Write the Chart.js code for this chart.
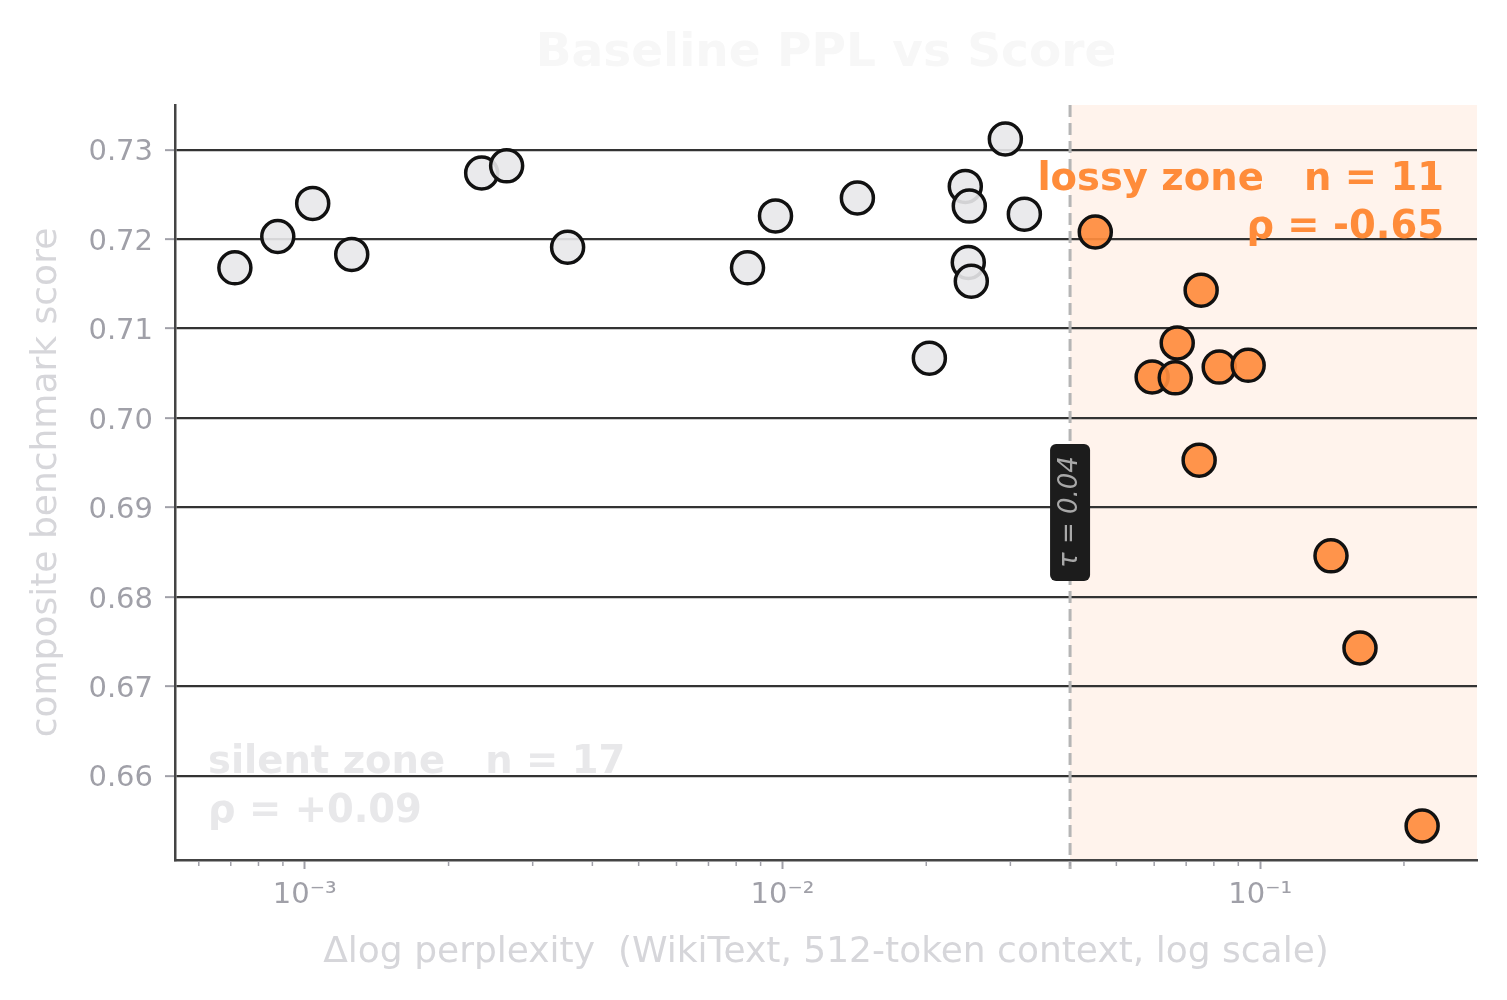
<!DOCTYPE html>
<html>
<head>
<meta charset="utf-8">
<script src="https://cdn.jsdelivr.net/npm/chart.js@4.4.0/dist/chart.umd.min.js"></script>
<style>
  html, body { margin: 0; padding: 0; background: #fff; }
</style>
</head>
<body>
<canvas id="scoreChart" width="1507" height="1000"></canvas>
<script>
// Silent zone (below tau) – Δlog perplexity vs composite score
const silentPpl = [0.000714, 0.000878, 0.001039, 0.001254, 0.002346, 0.002646, 0.00355,
                   0.00845, 0.00967, 0.01435, 0.0203, 0.02414, 0.02461, 0.02449, 0.02485, 0.02928, 0.03209];
const silentScore = [0.7168, 0.7203, 0.7240, 0.7183, 0.7274, 0.7282, 0.7191,
                     0.7168, 0.7226, 0.7246, 0.7067, 0.7259, 0.7237, 0.7174, 0.7153, 0.7312, 0.7228];

// Lossy zone (above tau)
const lossyPpl = [0.04517, 0.07524, 0.06705, 0.05941, 0.06641, 0.08209, 0.09438, 0.07452, 0.1407, 0.1618, 0.2183];
const lossyScore = [0.7208, 0.7143, 0.7084, 0.7046, 0.7045, 0.7057, 0.7059, 0.6953, 0.6846, 0.6743, 0.6544];

const threshold = 0.04;
const yTicks = [0.66, 0.67, 0.68, 0.69, 0.70, 0.71, 0.72, 0.73];
const xMajorTicks = [1e-3, 1e-2, 1e-1];
const xTickLabels = ['10⁻³', '10⁻²', '10⁻¹'];
const xMinorTicks = [6e-4, 7e-4, 8e-4, 9e-4,
                     2e-3, 3e-3, 4e-3, 5e-3, 6e-3, 7e-3, 8e-3, 9e-3,
                     2e-2, 3e-2, 4e-2, 5e-2, 6e-2, 7e-2, 8e-2, 9e-2, 2e-1];

const FONT = 'DejaVu Sans';
const tickGrey = '#a0a0a8';
const titleGrey = '#d6d6da';

const zonePlugin = {
    id: 'zones',
    beforeDraw(chart) {
        const { ctx, chartArea: a, scales: { x } } = chart;
        const xt = x.getPixelForValue(threshold);
        ctx.save();
        ctx.fillStyle = '#fff3ec';
        ctx.fillRect(xt, a.top, a.right - xt, a.bottom - a.top);
        ctx.restore();
    },
    beforeDatasetsDraw(chart) {
        const { ctx, chartArea: a, scales: { x, y } } = chart;
        const xt = x.getPixelForValue(threshold);
        ctx.save();
        // threshold line
        ctx.strokeStyle = '#b5b5b5';
        ctx.lineWidth = 3;
        ctx.setLineDash([12, 6]);
        ctx.beginPath();
        ctx.moveTo(xt, a.top);
        ctx.lineTo(xt, a.bottom + 9);
        ctx.stroke();
        ctx.setLineDash([]);
        // tau label
        const cy = y.getPixelForValue(0.6895);
        ctx.fillStyle = '#1c1c1c';
        ctx.beginPath();
        ctx.roundRect(xt - 20, cy - 68, 40, 137, 6);
        ctx.fill();
        ctx.translate(xt, cy);
        ctx.rotate(-Math.PI / 2);
        ctx.fillStyle = '#a8a8a8';
        ctx.font = 'italic 26px "' + FONT + '"';
        ctx.textAlign = 'center';
        ctx.textBaseline = 'middle';
        ctx.fillText('τ = 0.04', 0, 0);
        ctx.restore();
    },
    afterDatasetsDraw(chart) {
        const { ctx, chartArea: a } = chart;
        ctx.save();
        ctx.font = 'bold 38.5px "' + FONT + '"';
        ctx.textBaseline = 'alphabetic';
        // lossy zone note
        ctx.fillStyle = '#ff8c3a';
        ctx.textAlign = 'right';
        ctx.fillText('lossy zone   n = 11', a.right - 33, a.top + 85);
        ctx.fillText('ρ = -0.65', a.right - 33, a.top + 133);
        // silent zone note
        ctx.fillStyle = '#e8e8ea';
        ctx.textAlign = 'left';
        ctx.fillText('silent zone   n = 17', a.left + 33, a.bottom - 87);
        ctx.fillText('ρ = +0.09', a.left + 33, a.bottom - 38);
        ctx.restore();
    },
    afterDraw(chart) {
        const { ctx, chartArea: a, scales: { x } } = chart;
        ctx.save();
        // minor ticks on log axis
        ctx.strokeStyle = tickGrey;
        ctx.lineWidth = 1.5;
        xMinorTicks.forEach(v => {
            const px = x.getPixelForValue(v);
            ctx.beginPath();
            ctx.moveTo(px, a.bottom + 1);
            ctx.lineTo(px, a.bottom + 6);
            ctx.stroke();
        });
        // title
        ctx.fillStyle = '#f7f7f7';
        ctx.font = 'bold 47px "' + FONT + '"';
        ctx.textAlign = 'center';
        ctx.textBaseline = 'middle';
        ctx.fillText('Baseline PPL vs Score', (a.left + a.right) / 2, 54);
        ctx.restore();
    }
};

const ctx = document.getElementById('scoreChart').getContext('2d');
const scoreChart = new Chart(ctx, {
    type: 'scatter',
    data: {
        datasets: [{
            label: 'silent',
            data: silentPpl.map((v, i) => ({ x: v, y: silentScore[i] })),
            pointBackgroundColor: 'rgba(232,232,234,0.9)',
            pointBorderColor: '#111',
            pointBorderWidth: 3.5,
            pointRadius: 16
        }, {
            label: 'lossy',
            data: lossyPpl.map((v, i) => ({ x: v, y: lossyScore[i] })),
            pointBackgroundColor: 'rgba(255,140,61,0.92)',
            pointBorderColor: '#111',
            pointBorderWidth: 3.5,
            pointRadius: 16
        }]
    },
    options: {
        responsive: false,
        animation: false,
        devicePixelRatio: 1,
        events: [],
        layout: { padding: { top: 105, right: 30, left: 0, bottom: 0 } },
        plugins: {
            legend: { display: false },
            title: { display: false },
            tooltip: { enabled: false }
        },
        scales: {
            x: {
                type: 'logarithmic',
                min: 5.35e-4,
                max: 0.2844,
                afterBuildTicks: s => { s.ticks = xMajorTicks.map(v => ({ value: v, major: true })); },
                afterFit: s => { s.height = 140; },
                ticks: {
                    callback: (v, i) => xTickLabels[i],
                    autoSkip: false,
                    maxRotation: 0,
                    color: tickGrey,
                    font: { family: FONT, size: 29 },
                    padding: 9
                },
                grid: { drawOnChartArea: false, tickLength: 9, tickColor: tickGrey, tickWidth: 2 },
                border: { color: '#444', width: 2.5 },
                title: {
                    display: true,
                    text: 'Δlog perplexity  (WikiText, 512-token context, log scale)',
                    color: titleGrey,
                    font: { family: FONT, size: 36 },
                    padding: { top: 0, bottom: 26 }
                }
            },
            y: {
                min: 0.6506,
                max: 0.7350,
                afterBuildTicks: s => { s.ticks = yTicks.map(v => ({ value: v })); },
                afterFit: s => { s.width = 175; },
                ticks: {
                    callback: v => v.toFixed(2),
                    color: tickGrey,
                    font: { family: FONT, size: 29 },
                    padding: 12,
                    labelOffset: 3
                },
                grid: { color: '#333', lineWidth: 2.3, tickColor: tickGrey, tickLength: 10, tickWidth: 2 },
                border: { color: '#444', width: 2.5 },
                title: {
                    display: true,
                    text: 'composite benchmark score',
                    color: titleGrey,
                    font: { family: FONT, size: 36 },
                    padding: { top: 25, bottom: 0 }
                }
            }
        }
    },
    plugins: [zonePlugin]
});
</script>
</body>
</html>
